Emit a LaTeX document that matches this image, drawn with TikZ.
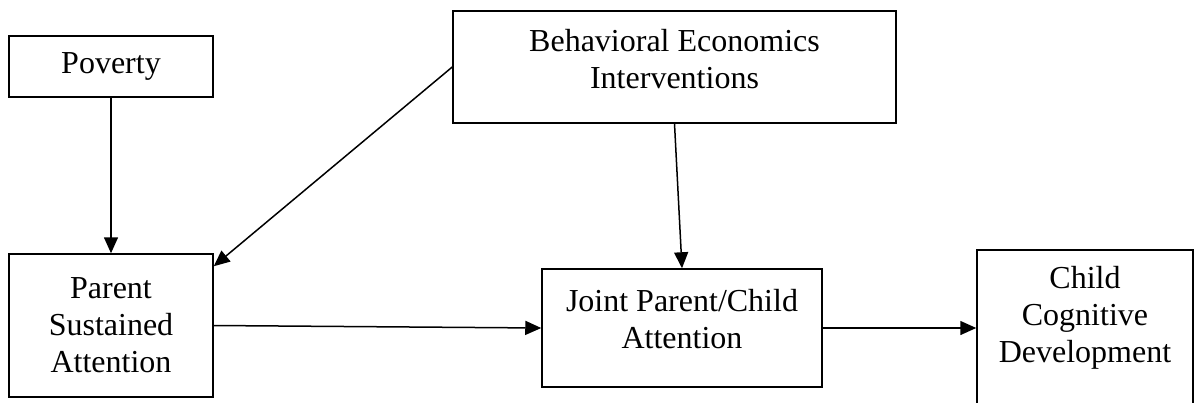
\documentclass[tikz,border=0pt]{standalone}
\usepackage{fontspec}
\setmainfont{Liberation Serif}
\usetikzlibrary{arrows.meta}

\begin{document}
\begin{tikzpicture}[x=1pt,y=-1pt,
  box/.style={draw, line width=1.5pt, align=center, inner sep=0pt,
    font=\fontsize{32}{37}\selectfont},
  arr/.style={line width=1.5pt, -{Triangle[length=16pt,width=14pt]}}]
\useasboundingbox (0,0) rectangle (1194,402);
\clip (0,0) rectangle (1194,402);
% boxes
\node[box, minimum width=204pt, minimum height=61pt] (poverty) at (111,66.5) {Poverty};
\node[box, minimum width=443pt, minimum height=112pt, text depth=16pt] (behav) at (674.5,67)
  {Behavioral Economics\\Interventions};
\node[box, minimum width=204pt, minimum height=143pt] (parent) at (111,325.5)
  {Parent\\Sustained\\Attention};
\node[box, minimum width=280pt, minimum height=118pt, text depth=18pt] (joint) at (682,328)
  {Joint Parent/Child\\Attention};
\node[box, minimum width=216pt, minimum height=160pt, text depth=32pt] (child) at (1085,330)
  {Child\\Cognitive\\Development};
% arrows
\draw[arr] (poverty) -- (parent);
\draw[arr] (behav.west) -- ([yshift=-13pt]parent.north east);
\draw[arr] (behav.south) -- (joint.north);
\draw[arr] (parent.east) -- (joint.west);
\draw[arr] (joint.east) -- (joint.east -| child.west);
\end{tikzpicture}
\end{document}
